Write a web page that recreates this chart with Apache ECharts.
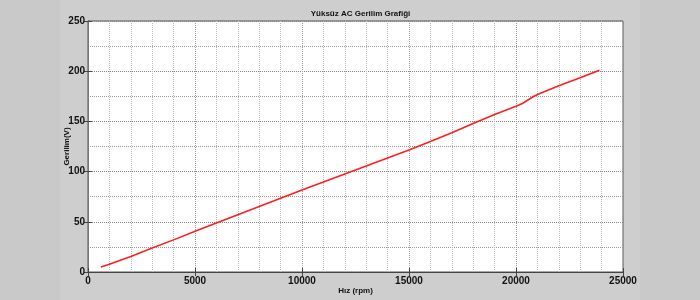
<!DOCTYPE html>
<html>
<head>
<meta charset="utf-8">
<script src="https://cdn.jsdelivr.net/npm/echarts@6/dist/echarts.min.js"></script>
<style>
html,body{margin:0;padding:0;background:#c9c9c9;}
#c{width:700px;height:300px;}
</style>
</head>
<body>
<div id="c"></div>
<script>
const titleText = 'Yüksüz AC Gerilim Grafiği';
const xName = 'Hız (rpm)';
const yName = 'Gerilim(V)';
const rpm   = [600, 1000, 2000, 3000, 4000, 5000, 6000, 7000, 8000, 9000, 10000, 11000, 12000, 13000, 14000, 15000, 16000, 17000, 18000, 19000, 20000, 20300, 20800, 21000, 22000, 23000, 23900];
const volts = [5, 7.8, 15.5, 23.8, 32, 40.5, 48.8, 57, 65.2, 73.4, 81.6, 89.6, 97.6, 105.6, 113.6, 121.6, 130, 138.6, 148, 156.8, 165, 167.8, 174.5, 176.8, 185.5, 193.5, 201];

const FONT = "'Liberation Sans Narrow', 'Liberation Sans', Arial, sans-serif";
const chart = echarts.init(document.getElementById('c'), null, {renderer: 'canvas'});
const pts = rpm.map((r, i) => [r, volts[i]]);
const GL = 88, GR = 623, GT = 21, GB = 272;

chart.setOption({
  backgroundColor: '#c9c9c9',
  animation: false,
  graphic: [{
    type: 'rect', z: -10, silent: true,
    shape: {x: 60, y: 0, width: 580, height: 300},
    style: {fill: '#cecece'}
  }],
  title: {
    text: titleText,
    left: (GL + GR) / 2, top: 5, textAlign: 'center',
    textStyle: {fontFamily: FONT, fontSize: 8, fontWeight: 'bold', color: '#111'}
  },
  grid: {
    left: GL, right: 700 - GR, top: GT, bottom: 300 - GB,
    outerBoundsMode: 'none', containLabel: false,
    show: true, backgroundColor: '#ffffff', borderColor: '#555', borderWidth: 1
  },
  xAxis: [{
    type: 'value', min: 0, max: 25000, interval: 5000,
    name: xName, nameLocation: 'middle', nameGap: 15, nameMoveOverlap: false,
    nameTextStyle: {fontFamily: FONT, fontSize: 8, fontWeight: 'bold', color: '#111'},
    axisLine: {show: true, onZero: false, lineStyle: {color: '#444'}},
    axisTick: {show: true, inside: true, length: 4, lineStyle: {color: '#444'}},
    minorTick: {show: false, splitNumber: 5},
    axisLabel: {fontFamily: FONT, fontSize: 10, fontWeight: 'bold', color: '#111', margin: 4,
      formatter: v => String(v)},
    splitLine: {show: true, lineStyle: {color: '#999', type: 'dotted', width: 1}},
    minorSplitLine: {show: true, lineStyle: {color: '#bbb', type: 'dotted', width: 1}}
  }, {
    type: 'value', min: 0, max: 25000, interval: 5000, position: 'top',
    axisLine: {show: true, lineStyle: {color: '#444'}},
    axisTick: {show: true, inside: true, length: 4, lineStyle: {color: '#444'}},
    axisLabel: {show: false}, splitLine: {show: false}
  }],
  yAxis: [{
    type: 'value', min: 0, max: 250, interval: 50,
    name: yName, nameLocation: 'middle', nameGap: 17, nameRotate: 90, nameMoveOverlap: false,
    nameTextStyle: {fontFamily: FONT, fontSize: 8, fontWeight: 'bold', color: '#111'},
    axisLine: {show: true, onZero: false, lineStyle: {color: '#444'}},
    axisTick: {show: true, inside: true, length: 4, lineStyle: {color: '#444'}},
    minorTick: {show: false, splitNumber: 2},
    axisLabel: {fontFamily: FONT, fontSize: 10, fontWeight: 'bold', color: '#111', margin: 3},
    splitLine: {show: true, lineStyle: {color: '#888', type: 'dotted', width: 1}},
    minorSplitLine: {show: true, lineStyle: {color: '#999', type: 'dotted', width: 1}}
  }, {
    type: 'value', min: 0, max: 250, interval: 50, position: 'right',
    axisLine: {show: true, lineStyle: {color: '#777'}},
    axisTick: {show: true, inside: true, length: 4, lineStyle: {color: '#444'}},
    axisLabel: {show: false}, splitLine: {show: false}
  }],
  series: [{
    type: 'line', data: pts, xAxisIndex: 0, yAxisIndex: 0,
    showSymbol: false, smooth: false,
    lineStyle: {color: '#ff1f1f', width: 1.6}
  }]
});
</script>
</body>
</html>
